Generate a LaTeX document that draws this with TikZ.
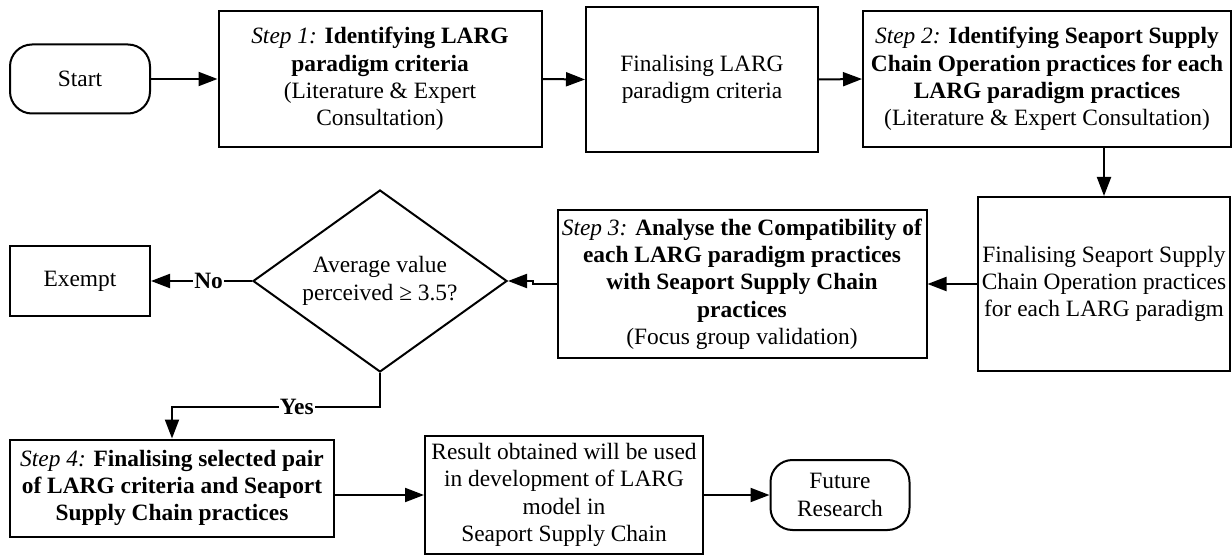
\documentclass[tikz,border=0pt]{standalone}
\usepackage{fontspec}
\setmainfont{Liberation Serif}
\usetikzlibrary{shapes.geometric,arrows.meta,calc}
\begin{document}
\begin{tikzpicture}[x=1pt,y=-1pt,
  font=\fontsize{23.4pt}{27.3pt}\selectfont,
  box/.style={draw, rectangle, align=center, inner sep=2pt, line width=2pt},
  pill/.style={draw, rectangle, rounded corners=22pt, align=center, inner sep=2pt, line width=2pt},
  dia/.style={draw, diamond, aspect=1.4, align=center, inner sep=0pt, line width=2pt,
    minimum width=254pt, minimum height=182pt},
  arr/.style={-{Triangle[length=19pt,width=14pt]}, line width=2pt},
  lbl/.style={fill=white, font=\fontsize{23.4pt}{27.3pt}\selectfont\bfseries, inner sep=1pt}]
\useasboundingbox (0,0) rectangle (1232,556);

% top row
\node[pill, minimum width=140pt, minimum height=69pt] (start) at (80,79) {Start};
\node[box, minimum width=323pt, minimum height=136pt] (s1) at (380,79)
  {\textit{Step 1:} \textbf{Identifying LARG}\\ \textbf{paradigm criteria}\\ (Literature \& Expert\\ Consultation)};
\node[box, minimum width=232pt, minimum height=145pt] (fl) at (702,79.5)
  {Finalising LARG\\ paradigm criteria};
\node[box, minimum width=368pt, minimum height=136pt] (s2) at (1047,79)
  {\textit{Step 2:} \textbf{Identifying Seaport Supply}\\ \textbf{Chain Operation practices for each}\\ \textbf{LARG paradigm practices}\\ (Literature \& Expert Consultation)};

% middle row
\node[box, minimum width=252pt, minimum height=174pt] (fs) at (1104,284)
  {Finalising Seaport Supply\\ Chain Operation practices\\ for each LARG paradigm};
\node[box, minimum width=369pt, minimum height=148pt] (s3) at (742,284)
  {\textit{Step 3:} \textbf{Analyse the Compatibility of}\\ \textbf{each LARG paradigm practices}\\ \textbf{with Seaport Supply Chain}\\ \textbf{practices}\\ (Focus group validation)};
\node[dia] (dec) at (380,281) {Average value\\ perceived ≥ 3.5?};
\node[box, minimum width=140pt, minimum height=69pt] (ex) at (80,281) {Exempt};

% bottom row
\node[box, minimum width=324pt, minimum height=97pt] (s4) at (172,488)
  {\textit{Step 4:} \textbf{Finalising selected pair}\\ \textbf{of LARG criteria and Seaport}\\ \textbf{Supply Chain practices}};
\node[box, minimum width=278pt, minimum height=118pt] (res) at (564,495)
  {Result obtained will be used\\ in development of LARG\\ model in\\ Seaport Supply Chain};
\node[pill, minimum width=139pt, minimum height=70pt] (fut) at (840,495) {Future\\ Research};

% connectors
\draw[arr] (start.east) -- (s1.west);
\draw[arr] (s1.east) -- (fl.west);
\draw[arr] (fl.east) -- (s2.west);
\draw[arr] (fs.north |- s2.south) -- (fs.north);
\draw[arr] (fs.west) -- (s3.east);
\draw[arr] (s3.west) -- ++(-24,0) |- (dec.east);
\draw[arr] (dec.west) -- node[lbl, pos=0.43] {No} (ex.east);
\draw[arr] (dec.south) -- ++(0,34) -| node[lbl, pos=0.2] {Yes} (s4.north);
\draw[arr] (s4.east |- res.west) -- (res.west);
\draw[arr] (res.east) -- (fut.west);
\end{tikzpicture}
\end{document}
